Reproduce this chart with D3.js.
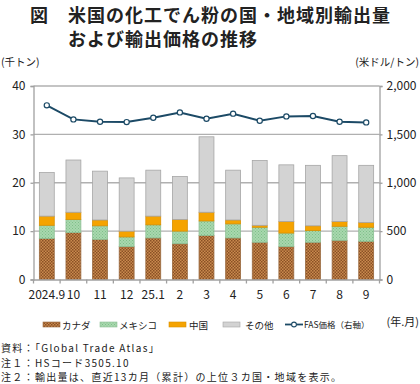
<!DOCTYPE html>
<html><head><meta charset="utf-8">
<script src="https://cdn.jsdelivr.net/npm/d3@7"></script>
<style>
body{margin:0;background:#fff;}
text{font-family:"Noto Sans CJK JP","Noto Sans",sans-serif;}
</style></head><body>
<svg id="c" width="420" height="384"></svg>
<script>
const months = ["2024.9","10","11","12","25.1","2","3","4","5","6","7","8","9"];
const canada = [8.5, 9.7, 8.3, 6.8, 8.6, 7.4, 9.1, 8.6, 7.7, 6.8, 7.7, 8.1, 7.9];
const mexico = [2.7, 2.7, 2.8, 2.0, 2.7, 2.6, 3.0, 2.9, 3.1, 2.8, 2.4, 2.9, 2.9];
const china  = [1.9, 1.5, 1.2, 1.2, 1.8, 2.4, 1.8, 0.8, 0.4, 2.4, 1.0, 1.0, 1.0];
const other  = [9.0,10.8,10.1,11.0, 9.5, 8.9,15.6,10.3,13.4,11.7,12.5,13.6,11.8];
const fas    = [1800,1655,1631,1627,1672,1727,1662,1714,1641,1686,1690,1631,1624];
const seriesNames = ["カナダ","メキシコ","中国","その他"];
const leftTicks = [0,10,20,30,40];
const rightTicks = [0,500,1000,1500,2000];

const svg = d3.select("#c");
const defs = svg.append("defs");
const pc = defs.append("pattern").attr("id","pCan").attr("width",3).attr("height",3).attr("patternUnits","userSpaceOnUse");
pc.append("rect").attr("width",3).attr("height",3).attr("fill","#c98a4e");
pc.append("rect").attr("width",1.5).attr("height",1.5).attr("fill","#8a5025");
pc.append("rect").attr("x",1.5).attr("y",1.5).attr("width",1.5).attr("height",1.5).attr("fill","#8a5025");
const pm = defs.append("pattern").attr("id","pMex").attr("width",3).attr("height",3).attr("patternUnits","userSpaceOnUse");
pm.append("rect").attr("width",3).attr("height",3).attr("fill","#a8d8ae");
pm.append("rect").attr("width",1).attr("height",1).attr("fill","#7fbf89");
pm.append("rect").attr("x",1.5).attr("y",1.5).attr("width",1).attr("height",1).attr("fill","#7fbf89");

const fills = ["url(#pCan)","url(#pMex)","#f5a300","#d3d3d3"];
const strokes = ["#9a6a40","#8dbf94","#d88f00","#a6a6a6"];

const L = 33.5, R = 379.5, T = 86, B = 279.5;
const x = d3.scaleBand().domain(months).range([L,R]).paddingInner(0.44).paddingOuter(0.22);
const xc = d3.scaleBand().domain(months).range([L,R]);
const y = d3.scaleLinear().domain([0,40]).range([B,T]);
const y2 = d3.scaleLinear().domain([0,2000]).range([B,T]);

// title
svg.append("text").attr("x",30).attr("y",22).attr("font-size",18).attr("letter-spacing",1).attr("font-weight","bold").attr("fill","#222")
  .text("図　米国の化工でん粉の国・地域別輸出量");
svg.append("text").attr("x",68).attr("y",46).attr("font-size",18).attr("letter-spacing",1).attr("font-weight","bold").attr("fill","#222")
  .text("および輸出価格の推移");

svg.append("text").attr("x",1).attr("y",66).attr("font-size",10.5).attr("fill","#222").text("(千トン)");
svg.append("text").attr("x",419).attr("y",66).attr("text-anchor","end").attr("font-size",10.5).attr("fill","#222").text("(米ドル/トン)");

// gridlines
svg.append("g").selectAll("line").data(leftTicks.slice(1)).join("line")
  .attr("x1",L).attr("x2",R).attr("y1",d=>y(d)).attr("y2",d=>y(d))
  .attr("stroke","#b0b0b0").attr("stroke-width",1.3);

// stacks
const data = months.map((m,i)=>({m, v:[canada[i],mexico[i],china[i],other[i]]}));
const stack = d3.stack().keys([0,1,2,3]).value((d,k)=>d.v[k]);
const layers = stack(data);
layers.forEach((layer,k)=>{
  svg.append("g").selectAll("rect").data(layer).join("rect")
    .attr("x",d=>x(d.data.m)).attr("width",x.bandwidth())
    .attr("y",d=>y(d[1])).attr("height",d=>y(d[0])-y(d[1]))
    .attr("fill",fills[k]).attr("stroke",strokes[k]).attr("stroke-width",0.8);
});

// axes
const axL = svg.append("g").attr("transform",`translate(${L},0)`)
  .call(d3.axisLeft(y).tickValues(leftTicks).tickSize(3).tickPadding(5));
const axR = svg.append("g").attr("transform",`translate(${R},0)`)
  .call(d3.axisRight(y2).tickValues(rightTicks).tickSize(3).tickPadding(4).tickFormat(d3.format(",")));
const axB = svg.append("g").attr("transform",`translate(0,${B})`)
  .call(d3.axisBottom(xc).tickSize(0).tickPadding(11));
[axL,axR,axB].forEach(g=>{
  g.select(".domain").attr("stroke","#a0a0a0").attr("stroke-width",1.3);
  g.selectAll(".tick line").attr("stroke","#a0a0a0").attr("stroke-width",1.3);
  g.selectAll("text").attr("font-size",12).attr("fill","#222").attr("font-family","Arial,'Liberation Sans',sans-serif");
});
const seps = months.map((m,i)=>xc(m)).concat([R]);
svg.append("g").selectAll("line").data(seps).join("line")
  .attr("x1",d=>d).attr("x2",d=>d).attr("y1",B).attr("y2",B+4)
  .attr("stroke","#a0a0a0").attr("stroke-width",1.3);

svg.append("text").attr("x",419).attr("y",326).attr("text-anchor","end").attr("font-size",11).attr("fill","#222").text("(年.月)");

// line
const cx = m => xc(m)+xc.bandwidth()/2;
svg.append("path").datum(fas.map((v,i)=>[months[i],v]))
  .attr("fill","none").attr("stroke","#1c4a66").attr("stroke-width",2)
  .attr("d",d3.line().x(d=>cx(d[0])).y(d=>y2(d[1])));
svg.append("g").selectAll("circle").data(fas.map((v,i)=>[months[i],v])).join("circle")
  .attr("cx",d=>cx(d[0])).attr("cy",d=>y2(d[1])).attr("r",2.6)
  .attr("fill","#fff").attr("stroke","#1c4a66").attr("stroke-width",1.2);

// legend
const lg = svg.append("g");
const legX = [43,100,169,223];
const textX = [62,119,189,245];
seriesNames.forEach((n,k)=>{
  lg.append("rect").attr("x",legX[k]).attr("y",322).attr("width",17).attr("height",5)
    .attr("fill",fills[k]).attr("stroke",strokes[k]).attr("stroke-width",0.6);
  lg.append("text").attr("x",textX[k]).attr("y",328.5).attr("font-size",9.5).attr("fill","#222").text(n);
});
lg.append("line").attr("x1",285).attr("x2",303).attr("y1",324.5).attr("y2",324.5).attr("stroke","#1c4a66").attr("stroke-width",1.8);
lg.append("circle").attr("cx",294).attr("cy",324.5).attr("r",2.4).attr("fill","#fff").attr("stroke","#1c4a66").attr("stroke-width",1.1);
lg.append("text").attr("x",304).attr("y",328).attr("font-size",8.5).attr("fill","#222").text("FAS価格（右軸）");

// notes
const notes = ["資料：「Global Trade Atlas」","注１：HSコード3505.10","注２：輸出量は、直近13カ月（累計）の上位３カ国・地域を表示。"];
svg.append("g").selectAll("text").data(notes).join("text")
  .attr("x",1).attr("y",(d,i)=>352+i*14.5).attr("font-size",10).attr("letter-spacing",1.3).attr("fill","#222").text(d=>d);
</script></body></html>
